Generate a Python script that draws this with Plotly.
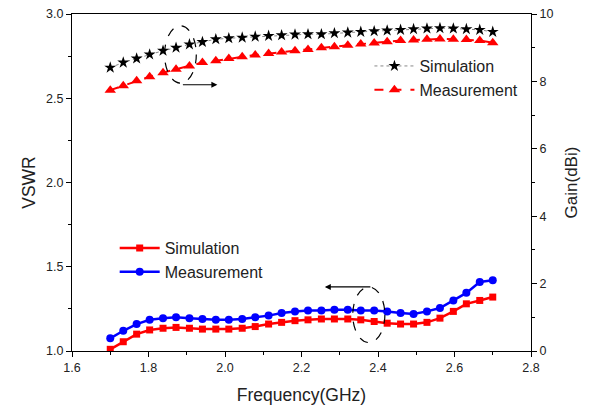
import plotly.graph_objects as go

freq = [1.700, 1.734, 1.769, 1.803, 1.838, 1.872, 1.907, 1.941, 1.976, 2.010,
        2.045, 2.079, 2.114, 2.148, 2.183, 2.217, 2.252, 2.286, 2.321, 2.355,
        2.390, 2.424, 2.459, 2.493, 2.528, 2.562, 2.597, 2.631, 2.666, 2.700]

vswr_sim = [1.01, 1.055, 1.10, 1.125, 1.135, 1.14, 1.135, 1.13, 1.13, 1.13,
            1.135, 1.145, 1.16, 1.17, 1.18, 1.185, 1.19, 1.19, 1.19, 1.185,
            1.175, 1.165, 1.16, 1.16, 1.17, 1.195, 1.235, 1.28, 1.30, 1.32]

vswr_meas = [1.075, 1.12, 1.16, 1.185, 1.195, 1.20, 1.195, 1.19, 1.185, 1.185,
             1.19, 1.20, 1.21, 1.225, 1.235, 1.24, 1.24, 1.245, 1.245, 1.24,
             1.24, 1.235, 1.225, 1.22, 1.235, 1.255, 1.30, 1.345, 1.41, 1.42]

gain_sim = [8.41, 8.56, 8.68, 8.80, 8.91, 9.00, 9.10, 9.17, 9.25, 9.28,
            9.30, 9.33, 9.35, 9.37, 9.39, 9.40, 9.40, 9.43, 9.45, 9.47,
            9.49, 9.51, 9.53, 9.55, 9.57, 9.58, 9.57, 9.55, 9.53, 9.47]

gain_meas = [7.74, 7.87, 8.02, 8.14, 8.26, 8.36, 8.46, 8.56, 8.61, 8.68,
             8.73, 8.78, 8.83, 8.87, 8.91, 8.95, 9.00, 9.03, 9.07, 9.11,
             9.14, 9.18, 9.21, 9.23, 9.25, 9.26, 9.25, 9.24, 9.21, 9.15]

FONT = "Liberation Sans, Arial, sans-serif"

fig = go.Figure()

fig.add_trace(go.Scatter(x=freq, y=gain_sim, name="Simulation", yaxis="y2",
                         mode="lines+markers", legend="legend",
                         line=dict(color="#888888", width=1, dash="dot"),
                         marker=dict(symbol="star", size=9, color="black")))
fig.add_trace(go.Scatter(x=freq, y=gain_meas, name="Measurement", yaxis="y2",
                         mode="lines+markers", legend="legend",
                         line=dict(color="#ff0000", width=2, dash="dash"),
                         marker=dict(symbol="triangle-up", size=10, color="#ff0000")))
fig.add_trace(go.Scatter(x=freq, y=vswr_sim, name="Simulation",
                         mode="lines+markers", legend="legend2",
                         line=dict(color="#ff0000", width=2.5),
                         marker=dict(symbol="square", size=7, color="#ff0000")))
fig.add_trace(go.Scatter(x=freq, y=vswr_meas, name="Measurement",
                         mode="lines+markers", legend="legend2",
                         line=dict(color="#0000ff", width=2.5),
                         marker=dict(symbol="circle", size=8, color="#0000ff")))

axis_common = dict(showline=True, linecolor="black", linewidth=1, ticks="outside",
                   ticklen=5, tickcolor="black", showgrid=False, zeroline=False,
                   automargin=False,
                   tickfont=dict(family=FONT, size=12.5, color="#222"))

fig.update_layout(
    width=591, height=407,
    margin=dict(l=72, r=60, t=14, b=56),
    paper_bgcolor="white", plot_bgcolor="white",
    font=dict(family=FONT, color="#222"),
    xaxis=dict(range=[1.6, 2.8], dtick=0.2, tickformat=".1f", mirror=True,
               minor=dict(ticks="outside", ticklen=3, dtick=0.1, tickcolor="black"),
               title=dict(text="Frequency(GHz)", font=dict(size=17.5), standoff=14),
               **axis_common),
    yaxis=dict(range=[1, 3], dtick=0.5, tickformat=".1f",
               minor=dict(ticks="outside", ticklen=3, dtick=0.25, tickcolor="black"),
               title=dict(text="VSWR", font=dict(size=17.5), standoff=5),
               **axis_common),
    yaxis2=dict(range=[0, 10], dtick=2, overlaying="y", side="right",
                minor=dict(ticks="outside", ticklen=3, dtick=1, tickcolor="black"),
                title=dict(text="Gain(dBi)", font=dict(size=17), standoff=12),
                **axis_common),
    legend=dict(x=0.648, y=0.896, xanchor="left", yanchor="top",
                bgcolor="rgba(0,0,0,0)", font=dict(size=16, color="#222"),
                tracegroupgap=0, itemwidth=40),
    legend2=dict(x=0.093, y=0.356, xanchor="left", yanchor="top",
                 bgcolor="rgba(0,0,0,0)", font=dict(size=16, color="#222"),
                 tracegroupgap=0, itemwidth=40),
    shapes=[
        dict(type="circle", xref="x", yref="y", x0=1.842, x1=1.925, y0=2.59, y1=2.93,
             line=dict(color="black", width=1.2, dash="dash")),
        dict(type="circle", xref="x", yref="y", x0=2.334, x1=2.418, y0=1.05, y1=1.38,
             line=dict(color="black", width=1.2, dash="dash")),
    ],
    annotations=[
        dict(x=1.98, y=2.58, ax=1.886, ay=2.58, xref="x", yref="y", axref="x", ayref="y",
             showarrow=True, arrowhead=2, arrowsize=1, arrowwidth=1.2, arrowcolor="black", text=""),
        dict(x=2.261, y=1.38, ax=2.384, ay=1.38, xref="x", yref="y", axref="x", ayref="y",
             showarrow=True, arrowhead=2, arrowsize=1, arrowwidth=1.2, arrowcolor="black", text=""),
    ],
)

fig.write_html("out.html")
